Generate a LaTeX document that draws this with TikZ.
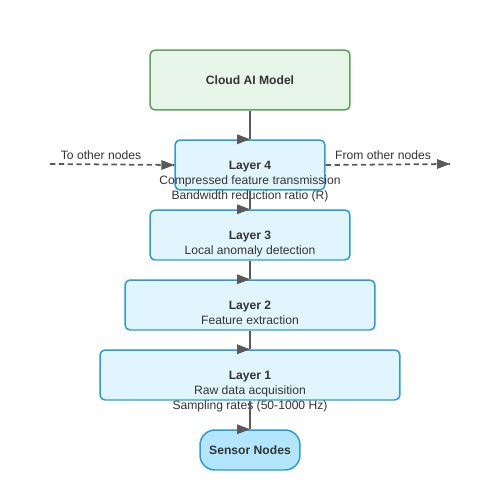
\documentclass[tikz,border=0pt]{standalone}
\usepackage{fontspec}
\setmainfont{Liberation Sans}
\definecolor{cloudfill}{HTML}{E8F5E9}
\definecolor{cloudline}{HTML}{5BA55B}
\definecolor{layerfill}{HTML}{E1F5FE}
\definecolor{layerline}{HTML}{2B9BD8}
\definecolor{sensorfill}{HTML}{B3E5FC}
\definecolor{ink}{HTML}{333333}
\definecolor{edgegray}{HTML}{595959}

% right-pointing head with its tip at the given point
\newcommand{\headat}[1]{\fill[edgegray] (#1) -- ++(-13,-5) -- ++(0,10) -- cycle;}

\begin{document}
\begin{tikzpicture}[x=0.02cm, y=-0.02cm,
    box/.style={draw=layerline, fill=layerfill, line width=0.85pt, rounded corners=0.1cm, inner sep=0pt, minimum height=1cm},
    txt/.style={text=ink, font=\fontsize{6.9}{8.5}\selectfont, align=center, inner sep=0pt},
    link/.style={draw=edgegray, line width=1.1pt},
    side/.style={draw=edgegray, line width=1pt, dash pattern=on 3pt off 2pt}]
    \useasboundingbox (0,0) rectangle (500,500);

    % Draw the cloud model
    \node[box, draw=cloudline, fill=cloudfill, minimum width=4cm, minimum height=1.2cm, txt, font=\fontsize{6.9}{8.5}\selectfont\bfseries] (cloud) at (250,80) {Cloud AI Model};

    % Draw the layers
    \node[box, minimum width=3cm] (l4) at (250,165) {};
    \node[box, minimum width=4cm] (l3) at (250,235) {};
    \node[box, minimum width=5cm] (l2) at (250,305) {};
    \node[box, minimum width=6cm] (l1) at (250,375) {};

    % Draw the sensors
    \node[box, fill=sensorfill, minimum width=2cm, minimum height=0.8cm, rounded corners=0.3cm, txt, font=\fontsize{6.9}{8.5}\selectfont\bfseries] (sensor) at (250,450) {Sensor Nodes};

    % Layer texts
    \node[txt, anchor=north] (l4t) at ([yshift=2.3pt]l4.center) {\textbf{Layer 4}\\Compressed feature transmission\\Bandwidth reduction ratio (R)};
    \node[txt, anchor=north] (l3t) at ([yshift=2.3pt]l3.center) {\textbf{Layer 3}\\Local anomaly detection};
    \node[txt, anchor=north] (l2t) at ([yshift=2.3pt]l2.center) {\textbf{Layer 2}\\Feature extraction};
    \node[txt, anchor=north] (l1t) at ([yshift=2.3pt]l1.center) {\textbf{Layer 1}\\Raw data acquisition\\Sampling rates (50-1000 Hz)};

    % Links between the layers
    \draw[link] (cloud) -- (l4); \headat{l4.north}
    \draw[link] (l4) -- (l3); \headat{l3.north}
    \draw[link] (l3) -- (l2); \headat{l2.north}
    \draw[link] (l2) -- (l1); \headat{l1.north}
    \draw[link] (l1) -- (sensor); \headat{sensor.north}

    % Traffic to and from other nodes
    \coordinate (west) at (50,164);
    \coordinate (east) at (450,164);
    \draw[side] (west) -- (l4.west); \headat{l4.west}
    \draw[side] (l4.east) -- (east); \headat{east}
    \node[txt] (tolbl) at (101,155) {To other nodes};
    \node[txt] (fromlbl) at (383,155) {From other nodes};
\end{tikzpicture}
\end{document}
